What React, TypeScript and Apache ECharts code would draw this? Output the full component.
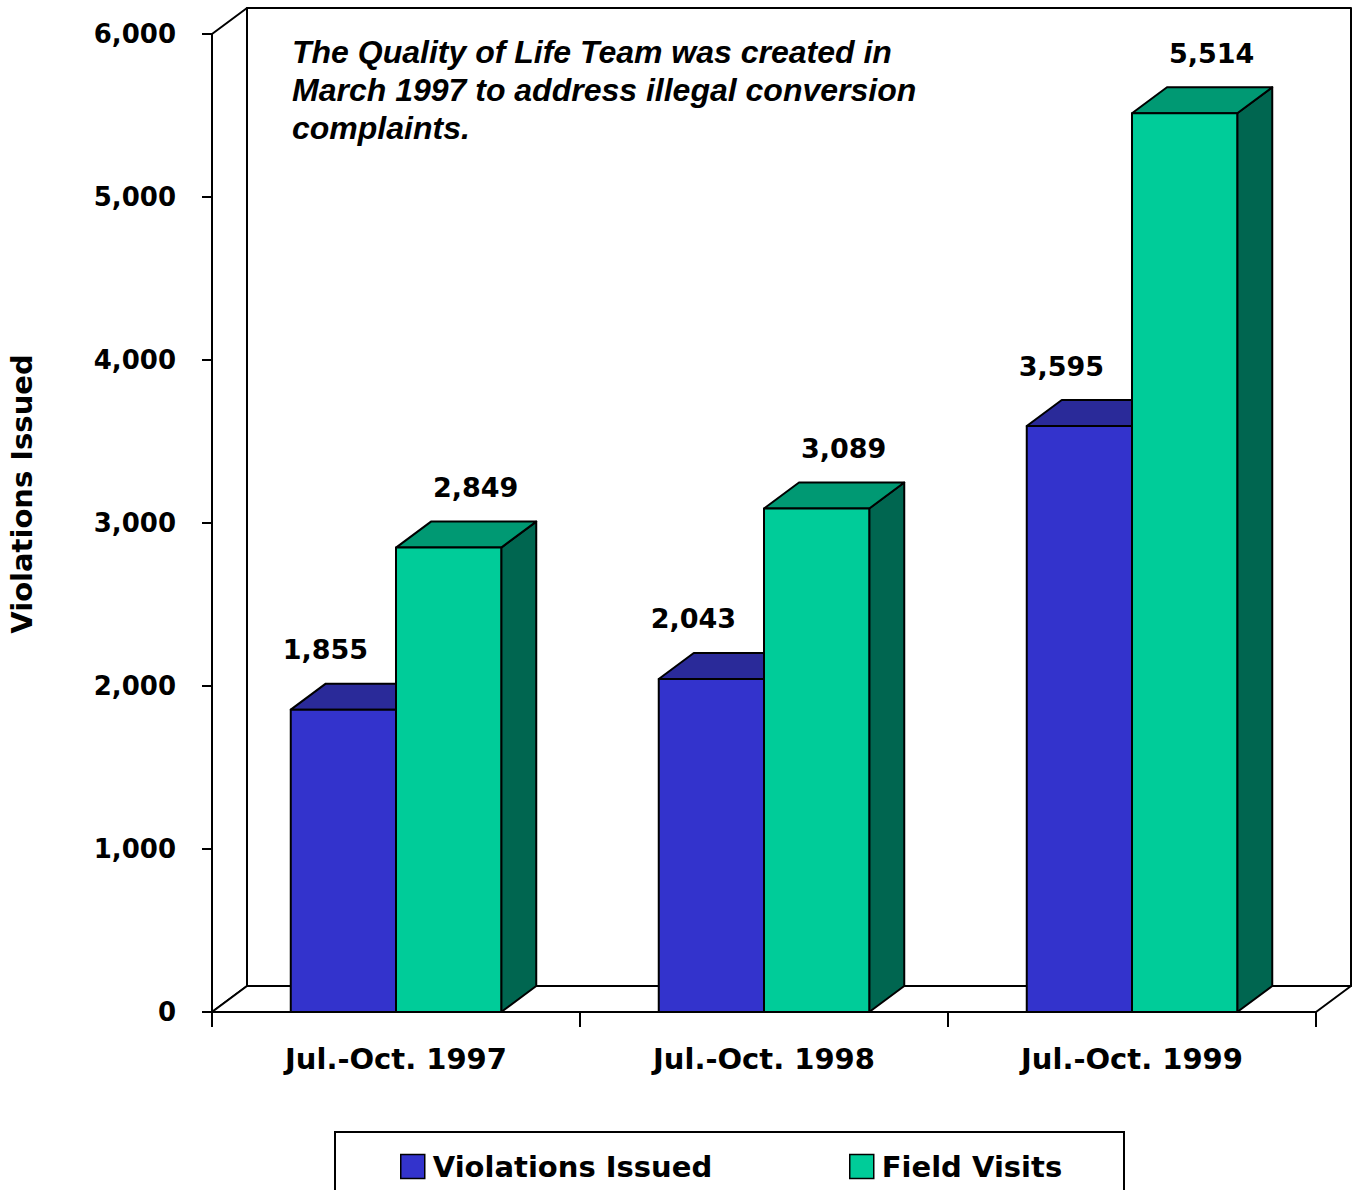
import React, { useEffect, useRef } from "react";
import * as echarts from "echarts";

const categories = ["Jul.-Oct. 1997", "Jul.-Oct. 1998", "Jul.-Oct. 1999"];
const violationsIssued = [1855, 2043, 3595];
const fieldVisits = [2849, 3089, 5514];
const seriesNames = ["Violations Issued", "Field Visits"];
const yMin = 0;
const yMax = 6000;
const yInterval = 1000;
const yAxisTitle = "Violations Issued";
const noteLines = [
  "The Quality of Life Team was created in",
  "March 1997 to address illegal conversion",
  "complaints.",
];

const DX = 35;
const DY = 26;
const FONT = "'DejaVu Sans', sans-serif";
const fmt = (v: number) => v.toLocaleString("en-US");

const palette = [
  { front: "#3333CC", top: "#2A2A99", side: "#1F1F80", labelDx: -18 },
  { front: "#00CC99", top: "#009973", side: "#006650", labelDx: 27 },
];

function makeBarRender(seriesIdx: number) {
  const c = palette[seriesIdx];
  return (params: any, api: any) => {
    const cat = api.value(0);
    const val = api.value(1);
    const top = api.coord([cat, val]);
    const base = api.coord([cat, 0]);
    const band = api.size([1, 0])[0];
    const w = band * 0.286;
    const x0 = seriesIdx === 0 ? top[0] - w : top[0];
    const yT = top[1];
    const yB = base[1];
    const st = { stroke: "#000", lineWidth: 2, lineJoin: "round" };
    return {
      type: "group",
      children: [
        {
          type: "polygon",
          shape: { points: [[x0 + w, yT], [x0 + w + DX, yT - DY], [x0 + w + DX, yB - DY], [x0 + w, yB]] },
          style: { fill: c.side, ...st },
        },
        {
          type: "polygon",
          shape: { points: [[x0, yT], [x0 + DX, yT - DY], [x0 + w + DX, yT - DY], [x0 + w, yT]] },
          style: { fill: c.top, ...st },
        },
        {
          type: "rect",
          shape: { x: x0, y: yT, width: w, height: yB - yT },
          style: { fill: c.front, ...st },
        },
        {
          type: "text",
          x: x0 + w / 2 + c.labelDx,
          y: yT - 60,
          style: {
            text: fmt(val),
            align: "center",
            verticalAlign: "middle",
            fill: "#000",
            font: `bold 27px ${FONT}`,
          },
        },
      ],
    };
  };
}

function frameRender(params: any, api: any) {
  const cs = params.coordSys;
  const L = cs.x, T = cs.y, R = cs.x + cs.width, B = cs.y + cs.height;
  const st = { stroke: "#000", lineWidth: 2, lineJoin: "round" };
  return {
    type: "group",
    children: [
      { type: "rect", shape: { x: L + DX, y: T - DY, width: R - L, height: B - T }, style: { fill: "#fff", ...st } },
      { type: "polygon", shape: { points: [[L, T], [L + DX, T - DY], [L + DX, B - DY], [L, B]] }, style: { fill: "#fff", ...st } },
      { type: "polygon", shape: { points: [[L, B], [L + DX, B - DY], [R + DX, B - DY], [R, B]] }, style: { fill: "#fff", ...st } },
    ],
  };
}

export default function App() {
  const ref = useRef<HTMLDivElement>(null);
  useEffect(() => {
    const chart = echarts.init(ref.current!, undefined, { renderer: "svg" });
    chart.setOption({
      animation: false,
      backgroundColor: "#fff",
      grid: { left: 212, top: 34, right: 36, bottom: 178, containLabel: false },
      title: {
        text: noteLines.join("\n"),
        left: 292,
        top: 33,
        padding: 0,
        textStyle: {
          fontFamily: "'Liberation Sans', Arial, sans-serif",
          fontStyle: "italic",
          fontWeight: "bold",
          fontSize: 32,
          lineHeight: 38,
          color: "#000",
        },
      },
      legend: [
        {
          data: [seriesNames[0]],
          left: 400,
          top: 1152,
          padding: 0,
          icon: "rect",
          itemWidth: 24,
          itemHeight: 24,
          itemStyle: { borderColor: "#000", borderWidth: 1.5 },
          textStyle: { fontFamily: FONT, fontWeight: "bold", fontSize: 29, color: "#000", padding: [0, 0, 0, 3] },
          selectedMode: false,
        },
        {
          data: [seriesNames[1]],
          left: 849,
          top: 1152,
          padding: 0,
          icon: "rect",
          itemWidth: 24,
          itemHeight: 24,
          itemStyle: { borderColor: "#000", borderWidth: 1.5 },
          textStyle: { fontFamily: FONT, fontWeight: "bold", fontSize: 29, color: "#000", padding: [0, 0, 0, 3] },
          selectedMode: false,
        },
      ],
      xAxis: {
        type: "category",
        data: categories,
        axisLine: { show: true, lineStyle: { color: "#000", width: 2 } },
        axisTick: { show: true, length: 15, lineStyle: { color: "#000", width: 2 } },
        axisLabel: { margin: 32, color: "#000", fontFamily: FONT, fontWeight: "bold", fontSize: 29 },
        splitLine: { show: false },
      },
      yAxis: {
        type: "value",
        min: yMin,
        max: yMax,
        interval: yInterval,
        axisLine: { show: true, lineStyle: { color: "#000", width: 2 } },
        axisTick: { show: true, length: 10, lineStyle: { color: "#000", width: 2 } },
        axisLabel: {
          margin: 36,
          color: "#000",
          fontFamily: FONT,
          fontWeight: "bold",
          fontSize: 26,
          formatter: (v: number) => fmt(v),
        },
        splitLine: { show: false },
      },
      graphic: [
        {
          type: "text",
          x: 22,
          y: 494,
          rotation: Math.PI / 2,
          style: {
            text: yAxisTitle,
            align: "center",
            verticalAlign: "middle",
            fill: "#000",
            font: `bold 29px ${FONT}`,
          },
        },
        {
          type: "rect",
          shape: { x: 335, y: 1132, width: 789, height: 100 },
          style: { fill: "none", stroke: "#000", lineWidth: 2 },
          z: -1,
        },
      ],
      series: [
        {
          name: "frame",
          type: "custom",
          coordinateSystem: "cartesian2d",
          data: [[0, 0]],
          renderItem: frameRender,
          clip: false,
          silent: true,
          z: 1,
        },
        {
          name: seriesNames[0],
          type: "custom",
          coordinateSystem: "cartesian2d",
          data: violationsIssued.map((v, i) => [i, v]),
          renderItem: makeBarRender(0),
          itemStyle: { color: palette[0].front },
          clip: false,
          z: 2,
        },
        {
          name: seriesNames[1],
          type: "custom",
          coordinateSystem: "cartesian2d",
          data: fieldVisits.map((v, i) => [i, v]),
          renderItem: makeBarRender(1),
          itemStyle: { color: palette[1].front },
          clip: false,
          z: 3,
        },
      ],
    });
    return () => chart.dispose();
  }, []);
  return (
    <div
      ref={ref}
      style={{ position: "absolute", left: 0, top: 0, width: 1352, height: 1190, background: "#fff" }}
    />
  );
}
